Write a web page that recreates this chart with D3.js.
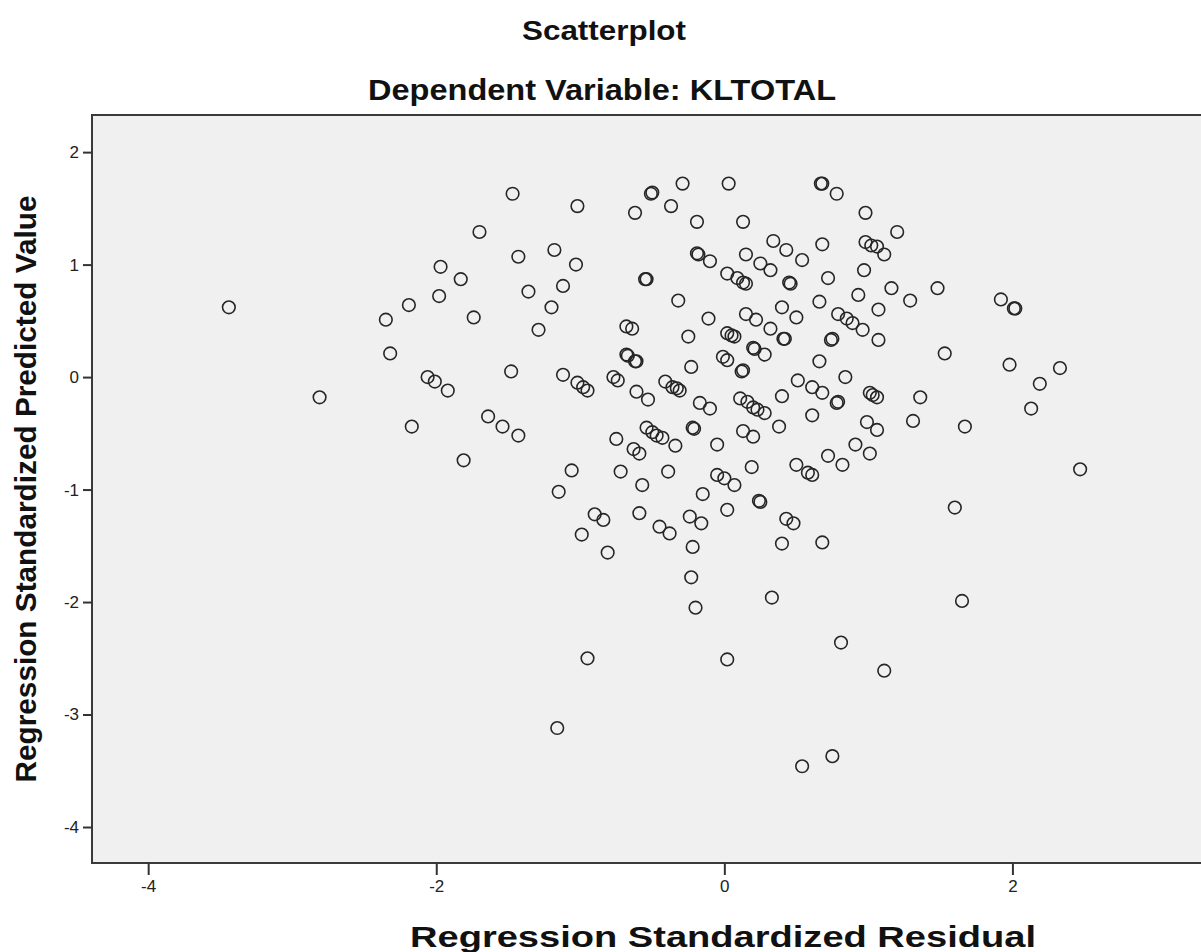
<!DOCTYPE html>
<html>
<head>
<meta charset="utf-8">
<script src="https://cdn.jsdelivr.net/npm/d3@7"></script>
<style>
  body { margin: 0; background: #fff; }
  text { font-family: "Liberation Sans", Arial, sans-serif; }
</style>
</head>
<body>
<svg id="scatter" width="1201" height="952"></svg>
<script>
// residual (x) / predicted (y)
const residual = [
    -3.44, -2.81, -2.35, -2.32, -2.19, -2.17, -1.97, -1.98, -1.83, -2.06,
    -2.01, -1.92, -1.81, -1.74, -1.70, -1.64, -1.54, -1.43, -1.48, -1.47,
    -1.43, -1.36, -1.29, -1.20, -1.18, -1.12, -1.03, -1.02, -1.12, -1.02,
    -0.98, -0.95, -1.06, -1.15, -0.90, -0.84, -0.99, -0.81, -0.95, -1.16,
    -0.77, -0.74, -0.75, -0.72, -0.68, -0.64, -0.68, -0.67, -0.62, -0.61,
    -0.62, -0.50, -0.51, -0.29, -0.37, -0.19, 0.03, 0.13, 0.68, 0.67,
    0.78, 0.98, 1.20, 0.34, 0.43, 0.68, 0.54, 0.98, 1.02, 1.06,
    1.11, -0.18, -0.19, -0.10, 0.15, 0.25, 0.32, 0.02, 0.09, 0.13,
    0.15, 0.45, 0.46, 0.72, 0.97, -0.54, -0.55, -0.32, 0.66, 0.93,
    1.16, 1.29, 1.48, 1.07, 0.40, 0.50, -0.11, 0.15, 0.22, 0.32,
    0.42, 0.41, 0.75, 0.74, 0.79, 0.85, 0.89, 0.96, 1.07, -0.25,
    0.02, 0.05, 0.07, 0.20, 0.21, 0.28, 0.66, 0.84, -0.23, -0.01,
    0.02, 0.12, 0.13, -0.61, -0.53, -0.41, -0.36, -0.33, -0.31, -0.17,
    -0.10, 0.11, 0.16, 0.20, 0.23, 0.28, 0.40, 0.51, 0.61, 0.68,
    0.78, 0.79, 1.01, 1.03, 1.06, 1.36, 0.99, 1.06, 1.31, 1.67,
    0.61, 0.38, -0.22, -0.21, -0.54, -0.50, -0.47, -0.43, -0.34, -0.63,
    -0.59, -0.05, 0.13, 0.20, 0.91, 1.01, 0.72, 0.82, 0.50, 0.58,
    0.61, 0.19, -0.05, 0.00, 0.07, -0.15, 0.24, 0.25, 0.02, -0.39,
    -0.57, -0.59, -0.45, -0.38, -0.24, -0.16, -0.22, -0.23, -0.20, 0.43,
    0.48, 0.40, 0.68, 0.33, 0.02, 0.81, 0.75, 0.54, 1.11, 1.92,
    2.01, 2.02, 1.53, 1.98, 2.33, 2.19, 2.13, 2.47, 1.60, 1.65
];
const predicted = [
    0.62, -0.18, 0.51, 0.21, 0.64, -0.44, 0.98, 0.72, 0.87, 0.00,
    -0.04, -0.12, -0.74, 0.53, 1.29, -0.35, -0.44, -0.52, 0.05, 1.63,
    1.07, 0.76, 0.42, 0.62, 1.13, 0.81, 1.00, 1.52, 0.02, -0.05,
    -0.09, -0.12, -0.83, -1.02, -1.22, -1.27, -1.40, -1.56, -2.50, -3.12,
    0.00, -0.03, -0.55, -0.84, 0.45, 0.43, 0.20, 0.19, 0.14, 0.14,
    1.46, 1.64, 1.63, 1.72, 1.52, 1.38, 1.72, 1.38, 1.72, 1.72,
    1.63, 1.46, 1.29, 1.21, 1.13, 1.18, 1.04, 1.20, 1.17, 1.16,
    1.09, 1.09, 1.10, 1.03, 1.09, 1.01, 0.95, 0.92, 0.88, 0.84,
    0.83, 0.84, 0.83, 0.88, 0.95, 0.87, 0.87, 0.68, 0.67, 0.73,
    0.79, 0.68, 0.79, 0.60, 0.62, 0.53, 0.52, 0.56, 0.51, 0.43,
    0.34, 0.34, 0.34, 0.33, 0.56, 0.52, 0.48, 0.42, 0.33, 0.36,
    0.39, 0.37, 0.36, 0.26, 0.25, 0.20, 0.14, 0.00, 0.09, 0.18,
    0.15, 0.05, 0.06, -0.13, -0.20, -0.04, -0.09, -0.10, -0.12, -0.23,
    -0.28, -0.19, -0.22, -0.27, -0.29, -0.32, -0.17, -0.03, -0.09, -0.14,
    -0.23, -0.22, -0.14, -0.16, -0.18, -0.18, -0.40, -0.47, -0.39, -0.44,
    -0.34, -0.44, -0.45, -0.46, -0.45, -0.49, -0.52, -0.54, -0.61, -0.64,
    -0.68, -0.60, -0.48, -0.53, -0.60, -0.68, -0.70, -0.78, -0.78, -0.85,
    -0.87, -0.80, -0.87, -0.90, -0.96, -1.04, -1.10, -1.11, -1.18, -0.84,
    -0.96, -1.21, -1.33, -1.39, -1.24, -1.30, -1.51, -1.78, -2.05, -1.26,
    -1.30, -1.48, -1.47, -1.96, -2.51, -2.36, -3.37, -3.46, -2.61, 0.69,
    0.61, 0.61, 0.21, 0.11, 0.08, -0.06, -0.28, -0.82, -1.16, -1.99
];
const xTicks = [-4, -2, 0, 2];
const yTicks = [-4, -3, -2, -1, 0, 1, 2];

const titleText = "Scatterplot";
const subtitleText = "Dependent Variable: KLTOTAL";
const xLabel = "Regression Standardized Residual";
const yLabel = "Regression Standardized Predicted Value";

const points = residual.map((r, i) => ({x: r, y: predicted[i]}));

const svg = d3.select('#scatter');

// plot box, the right edge runs off the page like in the picture
const box = {left: 92, top: 115, right: 1204, bottom: 863};

const x = d3.scaleLinear()
    .domain([-4.39, 3.33])
    .range([box.left, box.right]);

const y = d3.scaleLinear()
    .domain([-4.32, 2.33])
    .range([box.bottom, box.top]);

svg.append("rect")
    .attr("x", box.left)
    .attr("y", box.top)
    .attr("width", box.right - box.left)
    .attr("height", box.bottom - box.top)
    .attr("fill", "#f0f0f0")
    .attr("stroke", "#3a3a3a")
    .attr("stroke-width", 2);

// SPSS writes plain integers with a hyphen minus
const fmt = d => String(d);

const xAxis = svg.append("g")
    .attr("transform", `translate(0,${box.bottom})`)
    .call(d3.axisBottom(x).tickValues(xTicks).tickFormat(fmt).tickSize(12).tickPadding(5));

const yAxis = svg.append("g")
    .attr("transform", `translate(${box.left},0)`)
    .call(d3.axisLeft(y).tickValues(yTicks).tickFormat(fmt).tickSize(9).tickPadding(4));

[xAxis, yAxis].forEach(g => {
    g.select(".domain").remove();
    g.selectAll(".tick line")
        .attr("stroke", "#333")
        .attr("stroke-width", 2);
    g.selectAll(".tick text")
        .attr("fill", "#222")
        .style("font-size", "17px")
        .style("font-family", '"Liberation Sans", Arial, sans-serif');
});

svg.append("g")
    .attr("fill", "none")
    .attr("stroke", "#262626")
    .attr("stroke-width", 1.6)
    .selectAll("circle")
    .data(points)
    .join("circle")
    .attr("cx", d => x(d.x))
    .attr("cy", d => y(d.y))
    .attr("r", 6.3);

// titles (the SPSS export is a bit wider than Liberation, so stretch to fit)
function label(txt, xPos, yPos, size, len) {
    return svg.append("text")
        .attr("x", xPos)
        .attr("y", yPos)
        .attr("text-anchor", "middle")
        .attr("font-weight", "bold")
        .attr("font-size", size)
        .attr("fill", "#111")
        .attr("textLength", len)
        .attr("lengthAdjust", "spacingAndGlyphs")
        .text(txt);
}

label(titleText, 604, 40, 28, 164);
label(subtitleText, 602, 100, 29, 468);
label(xLabel, 723, 947, 29, 626);

label(yLabel, 0, 0, 29, 587)
    .attr("x", null)
    .attr("y", null)
    .attr("transform", `translate(36,${(box.top + box.bottom) / 2}) rotate(-90)`);
</script>
</body>
</html>
